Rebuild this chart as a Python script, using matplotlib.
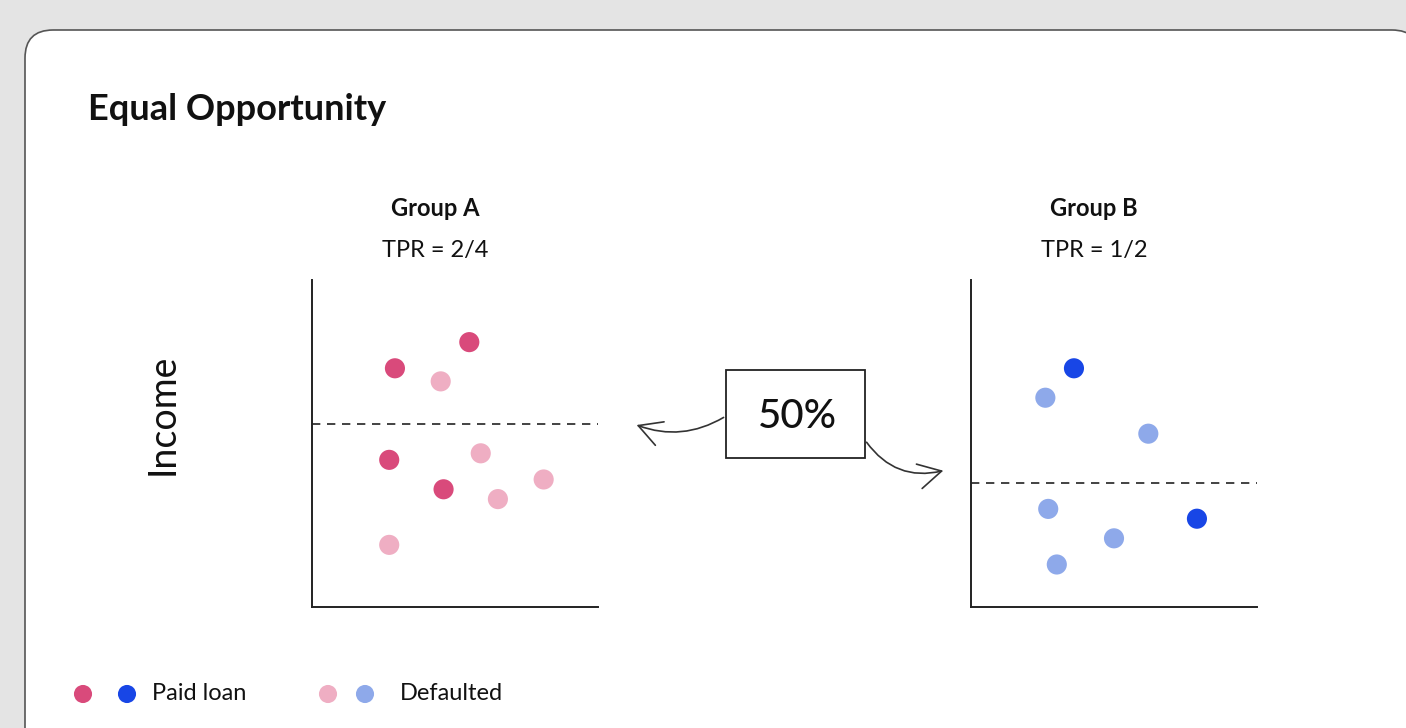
import matplotlib.pyplot as plt
from matplotlib.patches import FancyBboxPatch, FancyArrowPatch, Rectangle

plt.rcParams['font.family'] = ['Lato', 'DejaVu Sans']

W, H = 1406, 728

# data (axes run 0..10 on both x and y)
a_paid_x = [2.9, 5.5, 2.7, 4.6]
a_paid_y = [7.3, 8.1, 4.5, 3.6]
a_def_x = [4.5, 5.9, 6.5, 8.1, 2.7]
a_def_y = [6.9, 4.7, 3.3, 3.9, 1.9]
a_threshold = 5.6

b_paid_x = [3.6, 7.9]
b_paid_y = [7.3, 2.7]
b_def_x = [2.6, 6.2, 2.7, 5.0, 3.0]
b_def_y = [6.4, 5.3, 3.0, 2.1, 1.3]
b_threshold = 3.8

groups = ["Group A", "Group B"]
tprs = ["TPR = 2/4", "TPR = 1/2"]

pink_paid = "#d94a7b"
pink_def = "#efaec3"
blue_paid = "#1846e6"
blue_def = "#8ea9ea"


def fx(x):
    return x / W


def fy(y):
    return 1 - y / H


fig = plt.figure(figsize=(W / 100, H / 100), dpi=100)
fig.patch.set_facecolor("#e4e4e4")

# card
card = FancyBboxPatch((fx(25), fy(760)), fx(1420) - fx(25), fy(30) - fy(760),
                      boxstyle="round,pad=0,rounding_size=0.02",
                      transform=fig.transFigure, facecolor="white",
                      edgecolor="#555555", linewidth=1.2, zorder=-5,
                      mutation_aspect=W / H)
fig.patches.append(card)

fig.text(fx(88), fy(110), "Equal Opportunity", fontsize=26, fontweight="bold",
         ha="left", va="center", color="#111111")


def make_panel(left, paid_x, paid_y, def_x, def_y, thr, c_paid, c_def, name, tpr):
    ax = fig.add_axes([fx(left), fy(607), 286 / W, 327 / H])
    ax.set_xlim(0, 10)
    ax.set_ylim(0, 10)
    ax.scatter(def_x, def_y, s=210, color=c_def, edgecolors="none", zorder=3)
    ax.scatter(paid_x, paid_y, s=210, color=c_paid, edgecolors="none", zorder=4)
    ax.axhline(thr, color="#222222", linestyle=(0, (5, 4)), linewidth=1.2)
    for s in ["top", "right"]:
        ax.spines[s].set_visible(False)
    for s in ["left", "bottom"]:
        ax.spines[s].set_linewidth(1.4)
        ax.spines[s].set_color("#222222")
    ax.set_xticks([])
    ax.set_yticks([])
    ax.patch.set_visible(False)
    ax.text(0.43, 1.22, name, transform=ax.transAxes, ha="center", va="center",
            fontsize=17, fontweight="bold", color="#111111")
    ax.text(0.43, 1.09, tpr, transform=ax.transAxes, ha="center", va="center",
            fontsize=17, color="#111111")
    return ax


make_panel(312, a_paid_x, a_paid_y, a_def_x, a_def_y, a_threshold,
           pink_paid, pink_def, groups[0], tprs[0])
make_panel(971, b_paid_x, b_paid_y, b_def_x, b_def_y, b_threshold,
           blue_paid, blue_def, groups[1], tprs[1])

fig.text(fx(163), fy(414), "Income", rotation=90, fontsize=27,
         ha="center", va="center", color="#111111")

# 50% box
box = Rectangle((fx(726), fy(458)), fx(865) - fx(726), fy(370) - fy(458),
                transform=fig.transFigure, facecolor="white",
                edgecolor="#222222", linewidth=1.3)
fig.patches.append(box)
fig.text(fx(797), fy(416), "50%", fontsize=29, fontweight="medium",
         ha="center", va="center", color="#111111")

arr1 = FancyArrowPatch((fx(726), fy(416)), (fx(634), fy(424)),
                       transform=fig.transFigure,
                       connectionstyle="arc3,rad=-0.25",
                       arrowstyle="->,head_length=1.1,head_width=0.6",
                       mutation_scale=15,
                       color="#333333", linewidth=1.2)
arr2 = FancyArrowPatch((fx(865), fy(440)), (fx(946), fy(470)),
                       transform=fig.transFigure,
                       connectionstyle="arc3,rad=0.35",
                       arrowstyle="->,head_length=1.1,head_width=0.6",
                       mutation_scale=15,
                       color="#333333", linewidth=1.2)
fig.patches.append(arr1)
fig.patches.append(arr2)

# legend
leg_y = 694
leg = fig.add_axes([0, 0, 1, 1])
leg.set_xlim(0, W)
leg.set_ylim(H, 0)
leg.axis("off")
leg.patch.set_visible(False)
leg.scatter([83, 127], [leg_y, leg_y], s=170, color=[pink_paid, blue_paid],
            edgecolors="none")
leg.scatter([328, 365], [leg_y, leg_y], s=170, color=[pink_def, blue_def],
            edgecolors="none")
leg.text(152, leg_y, "Paid loan", fontsize=17, ha="left", va="center",
         color="#111111")
leg.text(400, leg_y, "Defaulted", fontsize=17, ha="left", va="center",
         color="#111111")

fig.savefig("out.png", dpi=100, facecolor=fig.get_facecolor())
